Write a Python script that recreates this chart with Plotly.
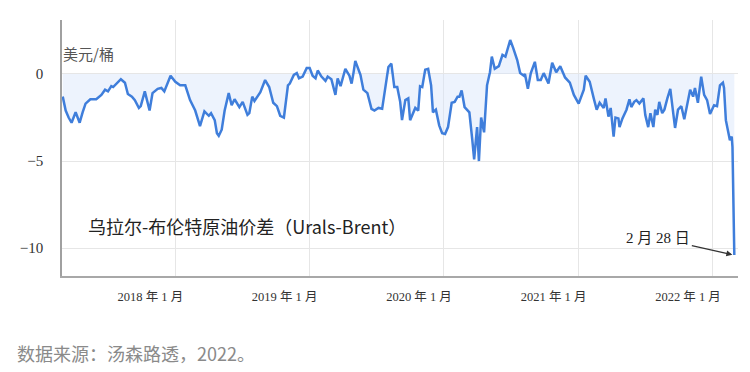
import plotly.graph_objects as go

dates = [
    "2017-03-01", "2017-03-09", "2017-03-17", "2017-03-25", "2017-04-05", "2017-04-16", "2017-04-24",
    "2017-05-02", "2017-05-15", "2017-05-31", "2017-06-14", "2017-06-24", "2017-07-02", "2017-07-11",
    "2017-07-16", "2017-07-24", "2017-08-06", "2017-08-17", "2017-08-25", "2017-09-05", "2017-09-13",
    "2017-09-24", "2017-09-29", "2017-10-10", "2017-10-23", "2017-10-31", "2017-11-14", "2017-11-24",
    "2017-12-02", "2017-12-19",
    "2018-01-01", "2018-01-14", "2018-01-28", "2018-02-10", "2018-02-24", "2018-03-09", "2018-03-21",
    "2018-04-02", "2018-04-08", "2018-04-18", "2018-04-24", "2018-04-29", "2018-05-07", "2018-05-15",
    "2018-05-23", "2018-05-26", "2018-06-03", "2018-06-11", "2018-06-24", "2018-07-03", "2018-07-16",
    "2018-07-21", "2018-07-29", "2018-08-04", "2018-08-20", "2018-09-02", "2018-09-13", "2018-09-24",
    "2018-10-04", "2018-10-13", "2018-10-23", "2018-11-03", "2018-11-08", "2018-11-19", "2018-11-27",
    "2018-12-03", "2018-12-13", "2018-12-24",
    "2019-01-01", "2019-01-09", "2019-01-17", "2019-01-23", "2019-02-02", "2019-02-13", "2019-02-19",
    "2019-03-01", "2019-03-12", "2019-03-18", "2019-03-26", "2019-04-08", "2019-04-19", "2019-04-25",
    "2019-04-30", "2019-05-05", "2019-05-19", "2019-05-27", "2019-06-07", "2019-06-18", "2019-06-26",
    "2019-07-07", "2019-07-17", "2019-07-26", "2019-08-03", "2019-08-11", "2019-08-19", "2019-08-27",
    "2019-09-04", "2019-09-09", "2019-09-18", "2019-09-26", "2019-10-01", "2019-10-15", "2019-10-23",
    "2019-10-28", "2019-11-03", "2019-11-11", "2019-11-19", "2019-11-27", "2019-12-02", "2019-12-10",
    "2019-12-19", "2019-12-27",
    "2020-01-04", "2020-01-12", "2020-01-22", "2020-01-30", "2020-02-07", "2020-02-12", "2020-02-18",
    "2020-02-26", "2020-03-10", "2020-03-18", "2020-03-23", "2020-03-31", "2020-04-05", "2020-04-11",
    "2020-04-19", "2020-04-27", "2020-05-05", "2020-05-10", "2020-05-18", "2020-05-29", "2020-06-08",
    "2020-06-16", "2020-06-29", "2020-07-07", "2020-07-18", "2020-07-26", "2020-08-05", "2020-08-08",
    "2020-08-16", "2020-08-24", "2020-09-04", "2020-09-12", "2020-09-20", "2020-09-28", "2020-10-11",
    "2020-10-21", "2020-11-01", "2020-11-12", "2020-11-25", "2020-12-08", "2020-12-19",
    "2021-01-01", "2021-01-15", "2021-01-20", "2021-01-31", "2021-02-11", "2021-02-19", "2021-02-27",
    "2021-03-10", "2021-03-15", "2021-03-23", "2021-03-29", "2021-04-06", "2021-04-11", "2021-04-19",
    "2021-04-22", "2021-04-30", "2021-05-11", "2021-05-19", "2021-05-24", "2021-06-01", "2021-06-07",
    "2021-06-15", "2021-06-26", "2021-07-01", "2021-07-09", "2021-07-15", "2021-07-23", "2021-07-28",
    "2021-08-03", "2021-08-08", "2021-08-16", "2021-08-22", "2021-08-30", "2021-09-07", "2021-09-15",
    "2021-09-20", "2021-09-28", "2021-10-07", "2021-10-15", "2021-10-23", "2021-10-31", "2021-11-08",
    "2021-11-13", "2021-11-21", "2021-11-30", "2021-12-08", "2021-12-16", "2021-12-24",
    "2022-01-04", "2022-01-12", "2022-01-20", "2022-01-28", "2022-01-31", "2022-02-05", "2022-02-10",
    "2022-02-16", "2022-02-21", "2022-02-23", "2022-02-28",
]

spread = [
    -1.3, -2.1, -2.5, -2.8, -2.2, -2.8, -2.2,
    -1.7, -1.45, -1.45, -1.2, -0.9, -1.0, -0.7,
    -0.75, -0.6, -0.3, -0.5, -1.15, -1.3, -1.5,
    -1.95, -1.85, -1.0, -2.1, -1.1, -0.85, -0.8,
    -1.0, -0.1,
    -0.45, -0.65, -0.65, -1.5, -2.1, -3.0, -2.15,
    -2.4, -2.25, -2.65, -3.4, -3.55, -3.2, -2.1,
    -1.3, -1.1, -1.8, -1.45, -1.9, -1.6, -2.35,
    -2.25, -1.3, -1.55, -1.05, -0.35, -0.75, -1.65,
    -1.85, -2.4, -2.5, -0.65, -0.55, -0.05, 0.05,
    -0.25, -0.15, 0.35,
    0.35, -0.1, -0.25, 0.2, -0.15, -0.4, -0.15,
    -0.3, -1.2, -0.25, -0.7, 0.3, -0.1, -0.55,
    0.05, 0.75, -0.05, -0.9, -1.1, -2.0, -2.1,
    -1.95, -2.0, -0.65, 0.4, 0.6, -0.75, -0.75,
    -1.6, -2.65, -1.5, -1.4, -2.65, -1.95, -2.1,
    -0.7, -0.75, 0.25, 0.3, -0.65, -2.2, -2.05,
    -2.95, -3.4,
    -3.45, -3.05, -1.65, -1.6, -1.3, -1.3, -0.95,
    -1.9, -2.2, -3.8, -4.9, -3.05, -5.0, -2.5,
    -3.35, -0.65, 0.1, 1.0, 0.3, 0.45, 1.1,
    1.0, 1.95, 1.5, 0.8, 0.05, -0.1, 0.0,
    -0.85, 0.05, 0.7, -0.35, -0.35, 0.05, -0.55,
    0.65, 0.1, 0.45, -0.2, -0.5, -1.2,
    -1.7, -0.9, -0.1, -0.45, -1.4, -2.05, -1.65,
    -1.95, -1.4, -2.45, -1.95, -3.6, -2.5, -2.55,
    -3.05, -2.55, -2.05, -1.45, -1.9, -1.6, -1.5,
    -1.7, -1.4, -2.35, -3.05, -2.25, -3.05, -2.05,
    -2.35, -1.6, -2.25, -2.05, -1.4, -0.85, -2.25,
    -3.1, -2.05, -1.85, -2.6, -1.8, -0.9, -1.3,
    -0.8, -1.65, -0.15, -1.2, -1.5, -2.3,
    -1.8, -1.85, -0.65, -0.5, -0.8, -2.65, -3.2,
    -3.8, -3.6, -4.2, -10.4,
]

tick_dates = ["2018-01-01", "2019-01-01", "2020-01-01", "2021-01-01", "2022-01-01"]
tick_labels = ["2018 年 1 月", "2019 年 1 月", "2020 年 1 月", "2021 年 1 月", "2022 年 1 月"]
y_ticks = [0, -5, -10]

unit_label = "美元/桶"
series_label = "乌拉尔-布伦特原油价差（Urals-Brent）"
end_label = "2 月 28 日"
source_text = "数据来源：汤森路透，2022。"

SERIF = "Liberation Serif, Times New Roman, Noto Sans CJK SC, serif"
SANS = "Noto Sans CJK SC, Microsoft YaHei, sans-serif"

# page body adds an 8px offset; figure is sized so the plot lands where the reference has it
W, H = 742, 364
ML, MR, MT, MB = 45, 12, 12, 96
PW, PH = W - ML - MR, H - MT - MB


def px(sx):
    return (sx - 15 - ML) / PW


def py(sy):
    return 1 - (sy - 8 - MT) / PH


fig = go.Figure()
fig.add_trace(go.Scatter(
    x=dates, y=spread, mode="lines",
    line=dict(color="#3F7EDB", width=2.5),
    fill="tozeroy", fillcolor="rgba(214,228,250,0.45)",
    hoverinfo="x+y", showlegend=False,
))

fig.update_layout(
    width=W, height=H,
    margin=dict(l=ML, r=MR, t=MT, b=MB),
    paper_bgcolor="white", plot_bgcolor="white",
    xaxis=dict(
        type="date", range=["2017-02-27", "2022-03-10"],
        tickvals=tick_dates, ticktext=tick_labels,
        showgrid=True, gridcolor="#E6E6E6", gridwidth=1,
        showline=True, linecolor="#A8A8A8", linewidth=1.5,
        ticks="", ticklabelshift=-25, ticklabelstandoff=8,
        tickfont=dict(family=SERIF, size=12.5, color="#333333"),
        zeroline=False,
    ),
    yaxis=dict(
        range=[-11.6, 3.1],
        tickvals=y_ticks,
        showgrid=True, gridcolor="#E6E6E6", gridwidth=1,
        showline=True, linecolor="#A0A0A0", linewidth=1.5,
        ticks="", ticklabelstandoff=14,
        tickfont=dict(family=SERIF, size=15, color="#333333"),
        zeroline=False,
    ),
)

fig.add_annotation(
    x=px(59), y=py(53), xref="paper", yref="paper",
    xanchor="left", yanchor="middle", showarrow=False,
    text=unit_label, font=dict(family=SANS, size=15, color="#555555"),
)

fig.add_annotation(
    x=px(84), y=py(226), xref="paper", yref="paper",
    xanchor="left", yanchor="middle", showarrow=False,
    text=series_label, font=dict(family=SANS, size=18, color="#222222"),
)

fig.add_annotation(
    x=dates[-1], y=spread[-1], xref="x", yref="y",
    text=end_label, showarrow=True,
    ax=-76, ay=-17, arrowhead=2, arrowsize=1, arrowwidth=1.2, arrowcolor="#333333",
    font=dict(family=SERIF, size=15, color="#222222"),
    standoff=2,
)

fig.add_annotation(
    x=px(12), y=py(353), xref="paper", yref="paper",
    xanchor="left", yanchor="middle", showarrow=False,
    text=source_text, font=dict(family=SANS, size=18, color="#8A8A8A"),
)

fig.write_html("out.html")
